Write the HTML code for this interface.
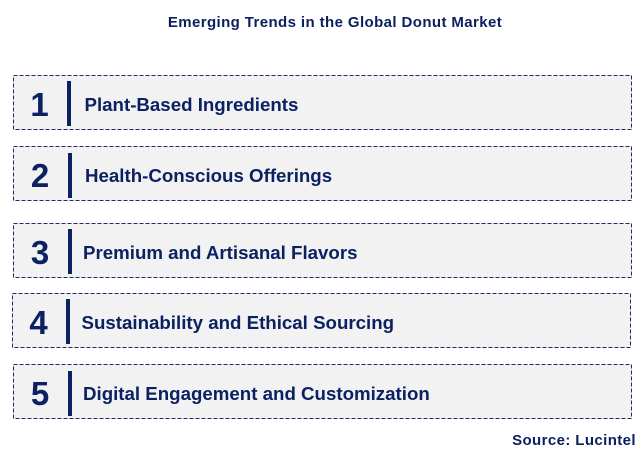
<!DOCTYPE html>
<html>
<head>
<meta charset="utf-8">
<style>
  html, body { margin:0; padding:0; background:#ffffff; }
  body { width:644px; height:455px; position:relative; overflow:hidden; font-family:"Liberation Sans", Arial, sans-serif; }
  .title { position:absolute; left:13px; width:644px; top:14px; text-align:center; font-weight:bold; font-size:15px; letter-spacing:0.4px; color:#0b1f5e; }
  .src { position:absolute; right:8px; top:432px; font-weight:bold; font-size:15px; letter-spacing:0.4px; color:#0b1f5e; }
  .box { position:absolute; width:619px; height:55px; background:#f2f2f2; }
  .box svg { position:absolute; left:0; top:0; }
  .num { position:absolute; left:0; width:54px; top:0; height:55px; line-height:55px; padding-top:2px; box-sizing:border-box; text-align:center; font-weight:bold; font-size:33px; color:#0b2161; }
  .bar { position:absolute; left:54.5px; top:6.5px; width:4px; height:45px; background:#0b2161; }
  .lab { position:absolute; left:72px; top:0; height:55px; line-height:55px; padding-top:2px; box-sizing:border-box; font-weight:bold; font-size:18.7px; color:#0b2161; white-space:nowrap; }
</style>
</head>
<body>
<div class="title">Emerging Trends in the Global Donut Market</div>

<div class="box" style="left:12.5px; top:74.5px;">
  <svg width="619" height="55"><rect x="0.5" y="0.5" width="618" height="54" fill="none" stroke="#1a2d66" stroke-width="1" stroke-dasharray="4,2"/></svg>
  <div class="num">1</div><div class="bar"></div>
  <div class="lab">Plant-Based Ingredients</div>
</div>

<div class="box" style="left:13px; top:146px;">
  <svg width="619" height="55"><rect x="0.5" y="0.5" width="618" height="54" fill="none" stroke="#1a2d66" stroke-width="1" stroke-dasharray="4,2"/></svg>
  <div class="num">2</div><div class="bar"></div>
  <div class="lab">Health-Conscious Offerings</div>
</div>

<div class="box" style="left:13px; top:222.5px;">
  <svg width="619" height="55"><rect x="0.5" y="0.5" width="618" height="54" fill="none" stroke="#1a2d66" stroke-width="1" stroke-dasharray="4,2"/></svg>
  <div class="num">3</div><div class="bar"></div>
  <div class="lab" style="left:70px;">Premium and Artisanal Flavors</div>
</div>

<div class="box" style="left:11.5px; top:292.5px;">
  <svg width="619" height="55"><rect x="0.5" y="0.5" width="618" height="54" fill="none" stroke="#1a2d66" stroke-width="1" stroke-dasharray="4,2"/></svg>
  <div class="num">4</div><div class="bar"></div>
  <div class="lab" style="left:70px;">Sustainability and Ethical Sourcing</div>
</div>

<div class="box" style="left:13px; top:364px;">
  <svg width="619" height="55"><rect x="0.5" y="0.5" width="618" height="54" fill="none" stroke="#1a2d66" stroke-width="1" stroke-dasharray="4,2"/></svg>
  <div class="num">5</div><div class="bar"></div>
  <div class="lab" style="left:70px;">Digital Engagement and Customization</div>
</div>

<div class="src">Source: Lucintel</div>
</body>
</html>
